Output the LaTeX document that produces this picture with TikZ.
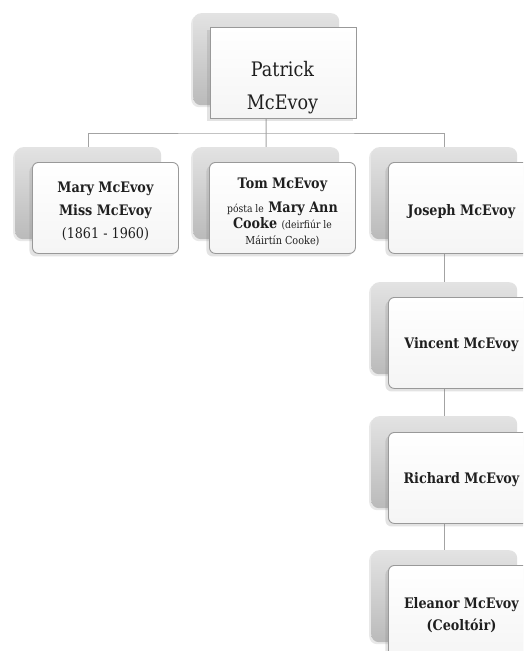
\documentclass[tikz,border=0pt]{standalone}
\usepackage{fontspec}
\setmainfont{DejaVu Serif}[FakeStretch=0.88]
\usetikzlibrary{shadows}
\pgfdeclarelayer{bg}
\pgfsetlayers{bg,main}
\definecolor{linegray}{gray}{0.64}
\definecolor{bordergray}{gray}{0.60}
\definecolor{txt}{gray}{0.12}
\newcommand\lowstrut[1]{\rule{0pt}{#1}}
\tikzset{
  backbox/.style={rounded corners=8pt, draw=none, top color=black!11, bottom color=black!27,
    minimum width=146pt, minimum height=92pt, anchor=north west, inner sep=0pt,
    drop shadow={shadow xshift=-2pt, shadow yshift=-2pt, opacity=0.18}},
  frontbox/.style={rounded corners=6pt, draw=bordergray, line width=0.9pt,
    top color=white, bottom color=black!4,
    minimum width=146pt, minimum height=91pt, anchor=north west, inner sep=2pt,
    align=center, text=txt,
    drop shadow={shadow xshift=-3pt, shadow yshift=-3pt, opacity=0.22}},
  topfront/.style={frontbox, rounded corners=0pt, fill=white},
  conn/.style={draw=linegray, line width=1pt},
  nametext/.style={font=\fontsize{14.5}{23}\selectfont\bfseries},
}
\begin{document}
\begin{tikzpicture}[x=1pt,y=-1pt]
\useasboundingbox (0,0) rectangle (523,651);
\clip (0,0) rectangle (523,651);

% back boxes
\node[backbox] (pb) at (193,13) {};
\node[backbox] (mb) at (15,147) {};
\node[backbox] (tb) at (193,147) {};
\node[backbox] (jb) at (371,147) {};
\node[backbox] (vb) at (371,282) {};
\node[backbox] (rb) at (371,416) {};
\node[backbox] (eb) at (371,550) {};
\coordinate (bar) at (266,133);

% white page and connectors behind the boxes
\begin{pgfonlayer}{bg}
\fill[white] (0,0) rectangle (523,651);
\draw[conn] (pb.south) -- (bar);
\draw[conn] (mb.north) |- (bar) -| (jb.north);
\draw[conn] (bar) -- (tb.north);
\draw[conn] (jb.south) -- (vb.north);
\draw[conn] (vb.south) -- (rb.north);
\draw[conn] (rb.south) -- (eb.north);
\end{pgfonlayer}

% front boxes
\node[topfront] (pf) at (210,27) {};
\node[font=\fontsize{20}{33}\selectfont, text=txt, align=center] (ptext) at (282.5,87.5) {Patrick\\McEvoy};

\node[frontbox, nametext] (mf) at (32,162) {\lowstrut{17pt}Mary McEvoy\\Miss McEvoy\\{\mdseries (1861 - 1960)}};

\node[frontbox, font=\fontsize{14.5}{16}\selectfont\bfseries] (tf) at (209,162)
  {\lowstrut{18pt}Tom McEvoy\\[8pt]{\fontsize{10.5}{16}\selectfont\mdseries pósta le} Mary Ann\\
   Cooke {\fontsize{10.5}{16}\selectfont\mdseries (deirfiúr le}\\
   {\fontsize{11}{16}\selectfont\mdseries Máirtín Cooke)}};

\node[frontbox, nametext] (jf) at (388,162) {\lowstrut{18pt}Joseph McEvoy};
\node[frontbox, nametext] (vf) at (388,297) {\lowstrut{15pt}Vincent McEvoy};
\node[frontbox, nametext] (rf) at (388,432) {\lowstrut{15pt}Richard McEvoy};
\node[frontbox, font=\fontsize{14.5}{22}\selectfont\bfseries] (ef) at (388,565) {\lowstrut{19pt}Eleanor McEvoy\\(Ceoltóir)};
\end{tikzpicture}
\end{document}
